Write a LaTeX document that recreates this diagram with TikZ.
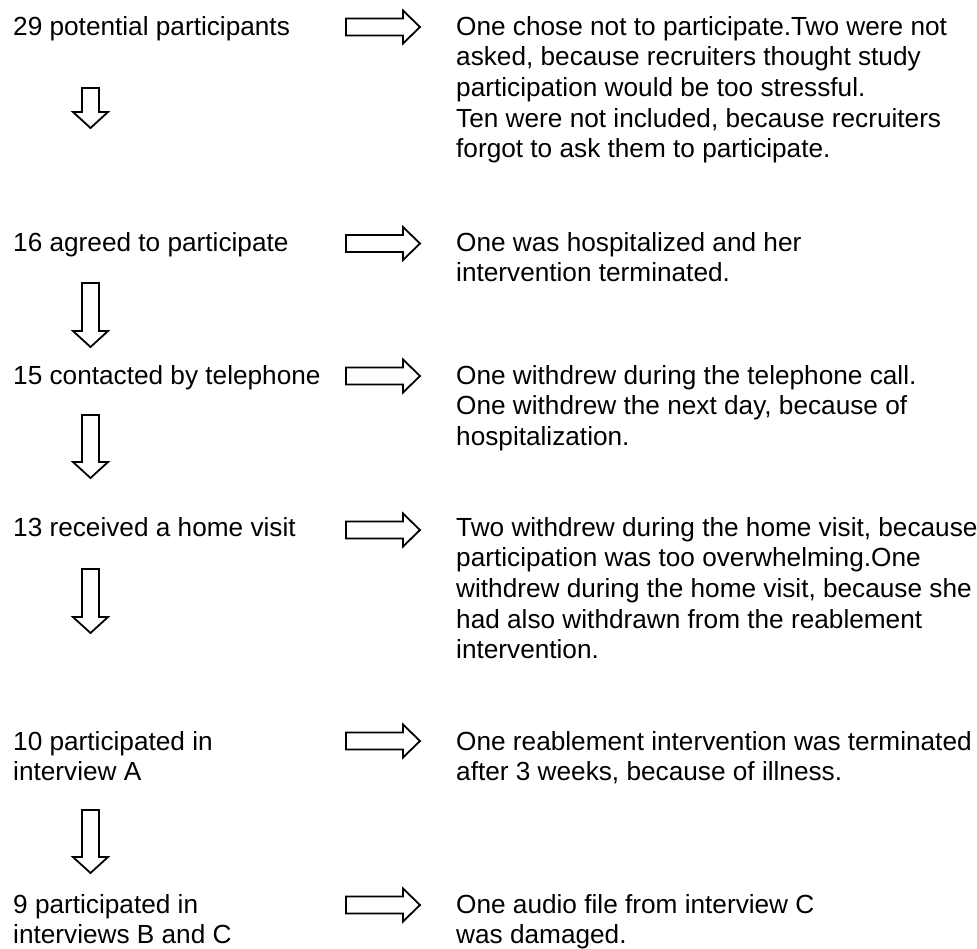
\documentclass[tikz,border=0pt]{standalone}
\usepackage{fontspec}
\setmainfont{Liberation Sans}
\begin{document}
\begin{tikzpicture}[x=1pt,y=-1pt,
  txt/.style={anchor=base west, inner sep=0pt, align=left, font=\fontsize{26.2}{30.7}\selectfont},
  blockarrow/.style={draw=black, line width=1.8pt, fill=white, line join=miter},
  pics/rarrow/.style={code={\draw[blockarrow] (-37,-8.5) -- (20,-8.5) -- (20,-16.5) -- (37,0) -- (20,16.5) -- (20,8.5) -- (-37,8.5) -- cycle;}},
  pics/darrow/.style={code={\draw[blockarrow] (-8.5,0) -- (8.5,0) -- (8.5,#1) -- (17.5,#1) -- (0,#1+16) -- (-17.5,#1) -- (-8.5,#1) -- cycle;}}
]
\useasboundingbox (0,0) rectangle (977,948);

% left column (anchor = baseline of the last line)
\node[txt] (l1) at (13,35) {29 potential participants};
\node[txt] (l2) at (13,251) {16 agreed to participate};
\node[txt] (l3) at (13,384) {15 contacted by telephone};
\node[txt] (l4) at (13,536) {13 received a home visit};
\node[txt] (l5) at (13,780.7) {10 participated in\\interview A};
\node[txt] (l6) at (13,943.7) {9 participated in\\interviews B and C};

% right column (anchor = baseline of the last line)
\node[txt] (r1) at (456,157.8) {One chose not to participate.Two were not\\asked, because recruiters thought study\\participation would be too stressful.\\Ten were not included, because recruiters\\forgot to ask them to participate.};
\node[txt] (r2) at (456,281.7) {One was hospitalized and her\\intervention terminated.};
\node[txt] (r3) at (456,445.4) {One withdrew during the telephone call.\\One withdrew the next day, because of\\hospitalization.};
\node[txt] (r4) at (456,658.8) {Two withdrew during the home visit, because\\participation was too overwhelming.One\\withdrew during the home visit, because she\\had also withdrawn from the reablement\\intervention.};
\node[txt] (r5) at (456,780.7) {One reablement intervention was terminated\\after 3 weeks, because of illness.};
\node[txt] (r6) at (456,943.7) {One audio file from interview C\\was damaged.};

% right arrows
\pic (ra1) at (383,27) {rarrow};
\pic (ra2) at (383,243.5) {rarrow};
\pic (ra3) at (383,376) {rarrow};
\pic (ra4) at (383,530) {rarrow};
\pic (ra5) at (383,741) {rarrow};
\pic (ra6) at (383,905) {rarrow};

% down arrows
\pic (da1) at (90.5,88) {darrow=24};
\pic (da2) at (90.5,283) {darrow=48};
\pic (da3) at (90.5,415) {darrow=47};
\pic (da4) at (90.5,569) {darrow=48};
\pic (da5) at (90.5,810) {darrow=47};
\end{tikzpicture}
\end{document}
